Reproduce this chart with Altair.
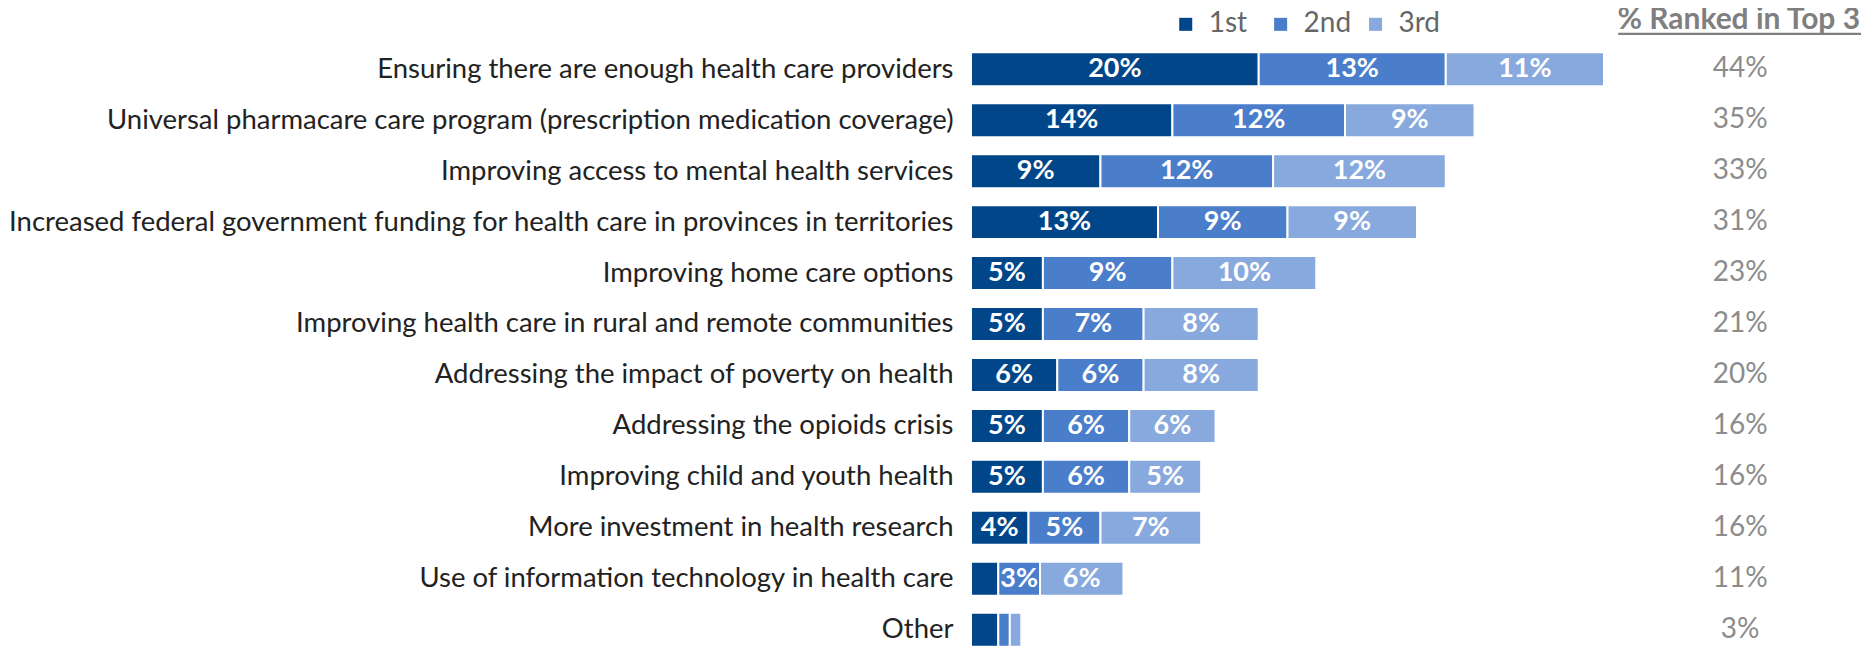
import altair as alt
import pandas as pd

categories = [
    "Ensuring there are enough health care providers",
    "Universal pharmacare care program (prescription medication coverage)",
    "Improving access to mental health services",
    "Increased federal government funding for health care in provinces in territories",
    "Improving home care options",
    "Improving health care in rural and remote communities",
    "Addressing the impact of poverty on health",
    "Addressing the opioids crisis",
    "Improving child and youth health",
    "More investment in health research",
    "Use of information technology in health care",
    "Other",
]
first = [20, 14, 9, 13, 5, 5, 6, 5, 5, 4, 1.9, 1.9]
second = [13, 12, 12, 9, 9, 7, 6, 6, 6, 5, 2.9, 0.8]
third = [11, 9, 12, 9, 10, 8, 8, 6, 5, 7, 5.8, 0.8]
top3 = [44, 35, 33, 31, 23, 21, 20, 16, 16, 16, 11, 3]
ranks = ["1st", "2nd", "3rd"]
colors = ["#02468A", "#4A7DCA", "#87A9DE"]
header_text = "% Ranked in Top 3"

rows = []
for i, c in enumerate(categories):
    for k, (r, vals) in enumerate(zip(ranks, [first, second, third])):
        v = vals[i]
        rows.append({"category": c, "rank": r, "rank_order": k, "value": v,
                     "label": f"{round(v)}%"})
df = pd.DataFrame(rows)
tot_df = pd.DataFrame({"category": categories, "label": [f"{t}%" for t in top3]})

FONT = "Lato"
W, H = 893, 581

y_enc = alt.Y("category:N", sort=categories,
              scale=alt.Scale(type="point", padding=0.196),
              axis=alt.Axis(title=None, domain=False, ticks=False, labelFontSize=27.5,
                            labelFont=FONT, labelColor="#222222", labelPadding=18,
                            labelLimit=2000))
x_scale = alt.Scale(domain=[0, 62.0], nice=False, zero=True)

bars = alt.Chart(df).mark_bar(size=34, stroke="white", strokeWidth=2).encode(
    y=y_enc,
    x=alt.X("value:Q", stack="zero", scale=x_scale, axis=None),
    color=alt.Color("rank:N", scale=alt.Scale(domain=ranks, range=colors),
                    legend=alt.Legend(title=None, orient="none", direction="horizontal",
                                      legendX=201, legendY=-49, symbolType="square",
                                      symbolSize=170, symbolStrokeWidth=0,
                                      labelFontSize=28, labelFont=FONT,
                                      labelColor="#666666", labelOffset=9,
                                      gridAlign="all", columnPadding=10)),
    order=alt.Order("rank_order:Q"),
)

labels = alt.Chart(df).transform_stack(
    stack="value", groupby=["category"], as_=["v0", "v1"],
    sort=[alt.SortField("rank_order", order="ascending")]
).transform_calculate(
    mid="(datum.v0 + datum.v1) / 2"
).transform_filter("datum.value >= 2.5").mark_text(
    color="white", fontWeight="bold", fontSize=27, font=FONT, baseline="middle"
).encode(
    y=alt.Y("category:N", sort=categories),
    x=alt.X("mid:Q", scale=x_scale),
    text="label:N",
)

totals = alt.Chart(tot_df).mark_text(
    color="#8C8C8C", fontSize=28, font=FONT, align="center", baseline="middle"
).encode(
    y=alt.Y("category:N", sort=categories),
    x=alt.value(770),
    text="label:N",
)

header = alt.Chart(pd.DataFrame({"t": [header_text]})).mark_text(
    color="#7F7F7F", fontSize=30, fontWeight="bold", font=FONT, align="right",
    baseline="middle"
).encode(x=alt.value(890), y=alt.value(-39), text="t:N")

underline = alt.Chart(pd.DataFrame({"t": [header_text]})).mark_rule(
    color="#7F7F7F", strokeWidth=2.2
).encode(x=alt.value(648), x2=alt.value(891), y=alt.value(-25.5))

chart = alt.layer(bars, labels, totals, header, underline).properties(
    width=W, height=H,
    padding={"left": 964, "top": 51, "right": 0, "bottom": 8},
    autosize=alt.AutoSizeParams(type="none"),
).configure_view(stroke=None)

chart.save("out.html", embed_options={"renderer": "svg", "actions": False})
